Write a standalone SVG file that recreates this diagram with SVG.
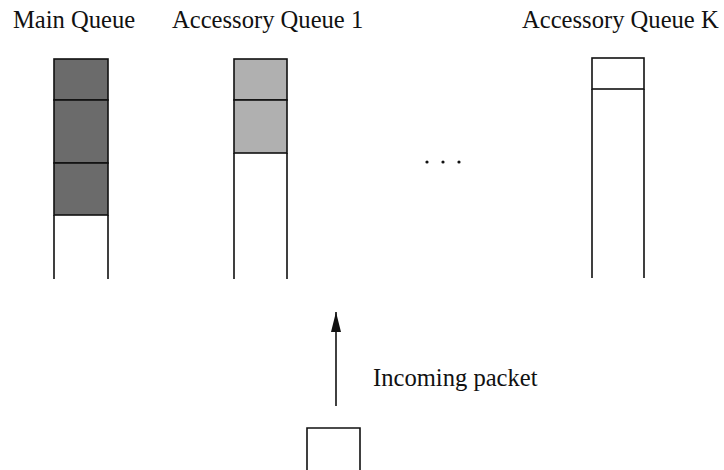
<svg xmlns="http://www.w3.org/2000/svg" width="724" height="470" viewBox="0 0 724 470">
  <style>
    .label { font-family: "Liberation Serif", "Times New Roman", serif; font-size: 24.6px; fill: #111; }
    .edge { fill: none; stroke: #111; stroke-width: 1.6; }
    .cell-dark { fill: #6b6b6b; stroke: #111; stroke-width: 1.6; }
    .cell-light { fill: #b0b0b0; stroke: #111; stroke-width: 1.6; }
    .cell-empty { fill: #fff; stroke: #111; stroke-width: 1.6; }
  </style>
  <defs>
    <marker id="arrowhead" viewBox="0 0 20 10" refX="20" refY="5" markerWidth="20" markerHeight="10" markerUnits="userSpaceOnUse" orient="auto">
      <path d="M0 0 L20 5 L0 10 Z" fill="#111"/>
    </marker>
  </defs>
  <rect width="724" height="470" fill="#fff"/>

  <!-- Main queue: three filled slots, open bottom -->
  <g id="main-queue">
    <text class="label" x="13" y="28">Main Queue</text>
    <rect class="cell-dark" x="54" y="59" width="54" height="41"/>
    <rect class="cell-dark" x="54" y="100" width="54" height="63"/>
    <rect class="cell-dark" x="54" y="163" width="54" height="52"/>
    <path class="edge" d="M54 215 V279 M108 215 V279"/>
  </g>

  <!-- Accessory queue 1: two filled slots -->
  <g id="accessory-queue-1">
    <text class="label" x="172" y="28">Accessory Queue 1</text>
    <rect class="cell-light" x="234" y="59" width="53" height="41"/>
    <rect class="cell-light" x="234" y="100" width="53" height="53"/>
    <path class="edge" d="M234 153 V279 M287 153 V279"/>
  </g>

  <!-- Ellipsis between queues -->
  <g id="ellipsis" fill="#111">
    <circle cx="427" cy="162" r="1.6"/>
    <circle cx="443" cy="162" r="1.6"/>
    <circle cx="459" cy="162" r="1.6"/>
  </g>

  <!-- Accessory queue K: one empty slot -->
  <g id="accessory-queue-k">
    <text class="label" x="522" y="28">Accessory Queue K</text>
    <rect class="cell-empty" x="592" y="58" width="52" height="31"/>
    <path class="edge" d="M592 89 V278 M644 89 V278"/>
  </g>

  <!-- Incoming packet -->
  <g id="incoming-packet">
    <path class="edge" d="M307 470 V428 H360 V470"/>
  </g>

  <g id="connectors">
    <line class="edge" x1="336" y1="406" x2="336" y2="312" marker-end="url(#arrowhead)"/>
    <text class="label" x="373" y="386">Incoming packet</text>
  </g>
</svg>
